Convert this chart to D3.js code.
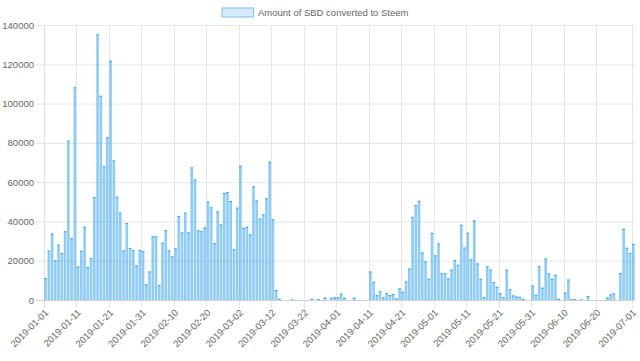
<!DOCTYPE html>
<html>
<head>
<meta charset="utf-8">
<script src="https://cdn.jsdelivr.net/npm/d3@7"></script>
<style>
  body { margin: 0; background: #fff; }
  text { font-family: "Liberation Sans", Arial, Helvetica, sans-serif; fill: #666; }
</style>
</head>
<body>
<svg id="chart" width="640" height="361"></svg>
<script>
const width = 640;
const height = 361;
const margin = { top: 25, right: 5, bottom: 61, left: 44 };
const fontSize = 9.5;

const seriesName = 'Amount of SBD converted to Steem';

// one value per day, 2019-01-01 .. 2019-07-01
const startDate = new Date(2019, 0, 1);
const endDate = new Date(2019, 6, 2);
const days = d3.timeDay.range(startDate, endDate);

const amounts = [
  11200, 25100, 33900, 20200, 28200, 23900, 35000, 81100, 31400, 108300,
  17000, 25100, 37300, 16800, 21400, 52400, 135300, 104000, 68000, 82800,
  121800, 71100, 52600, 44500, 25300, 39200, 26500, 25500, 17600, 25500,
  24900, 8000, 14500, 32400, 32400, 7600, 29200, 35600, 25300, 22200,
  26300, 42800, 34400, 44500, 34400, 67500, 61300, 35500, 35000, 37000,
  50100, 47200, 29000, 45100, 38500, 54500, 55000, 50400, 25800, 47000,
  68400, 36700, 37300, 33400, 57900, 50700, 41400, 43600, 51800, 70400,
  41100, 5100, 600, 0, 0, 0, 300, 0, 0, 0,
  0, 0, 600, 0, 500, 0, 1300, 0, 1100, 1300,
  1400, 3300, 1200, 0, 0, 1200, 0, 0, 0, 0,
  14500, 9200, 2500, 4500, 1400, 3500, 2500, 3000, 800, 5900,
  4200, 9400, 16000, 42300, 48300, 50500, 24200, 19600, 10800, 34200,
  22700, 28800, 13600, 13600, 11000, 15500, 20400, 17900, 38300, 26700,
  34200, 20800, 40500, 18600, 10800, 1400, 17100, 15500, 9100, 6700,
  3500, 1400, 15500, 5500, 2300, 1800, 1600, 600, 0, 0,
  7400, 2600, 17200, 6300, 21100, 13500, 10800, 12800, 600, 0,
  3800, 10400, 400, 400, 0, 300, 0, 2000, 0, 0,
  0, 0, 0, 1300, 2800, 3300, 0, 13700, 36200, 26600,
  24000, 28600
];

const yTicks = [0, 20000, 40000, 60000, 80000, 100000, 120000, 140000];

const fmt = d3.timeFormat('%Y-%m-%d');
const labels = days.map(fmt);
const data = labels.map((d, i) => ({ date: d, value: amounts[i] }));

// every 10th label, the one before the last is skipped so the last one shows
const shown = labels.filter((d, i) => (i % 10 === 0 && i + 10 < labels.length) || i === labels.length - 1);

const svg = d3.select('#chart');

const xscale = d3.scaleBand()
  .domain(labels)
  .range([margin.left, width - margin.right])
  .paddingInner(0.18)
  .paddingOuter(0.09);

const step = xscale.step();
const leftEdge = (d) => Math.round(xscale(d) - xscale.paddingInner() * step / 2) + 0.5;

const yscale = d3.scaleLinear()
  .domain([0, 140000])
  .range([height - margin.bottom, margin.top]);

// horizontal grid + y labels
const leftAxis = d3.axisLeft(yscale)
  .tickValues(yTicks)
  .tickSize(-(width - margin.right - margin.left + 8))
  .tickPadding(2)
  .tickFormat(d3.format('d'));

svg.append('g')
  .attr('transform', `translate(${margin.left - 8}, 0)`)
  .call(leftAxis)
  .call(g => g.select('.domain').remove())
  .call(g => g.selectAll('line').attr('stroke', '#e6e6e6'))
  .call(g => g.selectAll('text').attr('font-size', fontSize).attr('fill', '#666'));

// y axis line
svg.append('line')
  .attr('x1', margin.left + 0.5)
  .attr('x2', margin.left + 0.5)
  .attr('y1', margin.top)
  .attr('y2', height - margin.bottom + 8)
  .attr('stroke', '#e0e0e0');

// vertical grid at the labelled days
svg.append('g')
  .selectAll('line')
  .data(shown.slice(1))
  .enter()
  .append('line')
  .attr('x1', leftEdge)
  .attr('x2', leftEdge)
  .attr('y1', margin.top)
  .attr('y2', height - margin.bottom + 8)
  .attr('stroke', '#e6e6e6');

// x labels, rotated
svg.append('g')
  .selectAll('text')
  .data(shown)
  .enter()
  .append('text')
  .text(d => d)
  .attr('font-size', fontSize)
  .attr('text-anchor', 'end')
  .attr('dy', '0.35em')
  .attr('transform', d => `translate(${xscale(d) + xscale.bandwidth() / 2 + 1}, ${height - margin.bottom + 11}) rotate(-45)`);

// bars
svg.append('g')
  .selectAll('rect')
  .data(data)
  .enter()
  .append('rect')
  .attr('x', d => xscale(d.date))
  .attr('y', d => yscale(d.value))
  .attr('width', xscale.bandwidth())
  .attr('height', d => yscale(0) - yscale(d.value))
  .attr('fill', 'rgba(54, 162, 235, 0.55)');

// top border of each bar
svg.append('g')
  .selectAll('line')
  .data(data.filter(d => d.value > 0))
  .enter()
  .append('line')
  .attr('x1', d => xscale(d.date))
  .attr('x2', d => xscale(d.date) + xscale.bandwidth())
  .attr('y1', d => yscale(d.value) + 0.5)
  .attr('y2', d => yscale(d.value) + 0.5)
  .attr('stroke', 'rgba(54, 162, 235, 0.9)');

// x axis base line
svg.append('line')
  .attr('x1', margin.left - 8)
  .attr('x2', width - margin.right)
  .attr('y1', yscale(0) + 0.5)
  .attr('y2', yscale(0) + 0.5)
  .attr('stroke', '#d0d0d0');

// legend
const legend = svg.append('g');
legend.append('rect')
  .attr('x', 222)
  .attr('y', 8)
  .attr('width', 31.5)
  .attr('height', 9)
  .attr('fill', '#d6ebfb')
  .attr('stroke', '#8cc6f0')
  .attr('stroke-width', 1.2);

legend.append('text')
  .text(seriesName)
  .attr('x', 258)
  .attr('y', 12.5)
  .attr('dy', '0.35em')
  .attr('font-size', fontSize);
</script>
</body>
</html>
